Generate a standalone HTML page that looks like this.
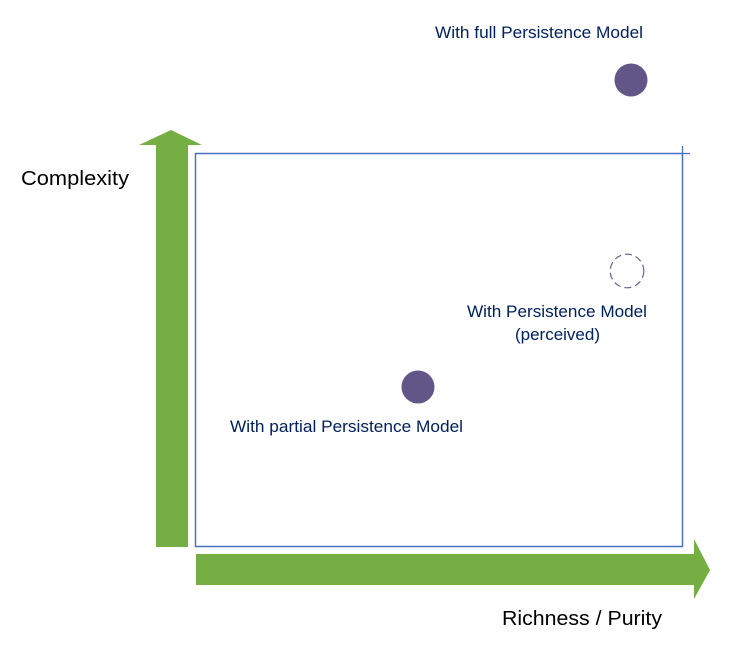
<!DOCTYPE html>
<html>
<head>
<meta charset="utf-8">
<style>
html,body{margin:0;padding:0;background:#fff}
svg{display:block}
text{font-family:"Liberation Sans",sans-serif}
.b{fill:#002060;font-size:17px}
.k{fill:#000;font-size:20px}
</style>
</head>
<body>
<svg width="729" height="651" viewBox="0 0 729 651" xmlns="http://www.w3.org/2000/svg">
<rect width="729" height="651" fill="#fff"/>
<polygon points="156,547 188,547 188,145 202,145 171,130 139,145 156,145" fill="#75ae42"/>
<polygon points="196,554 694,554 694,539 710,570 694,599 694,585 196,585" fill="#75ae42"/>
<rect x="195.5" y="153.5" width="487" height="393" fill="none" stroke="#4a72c4" stroke-width="1.5"/>
<line x1="682.5" y1="146" x2="682.5" y2="154" stroke="#4a72c4" stroke-width="1.3"/>
<line x1="682" y1="153.5" x2="690" y2="153.5" stroke="#4a72c4" stroke-width="1.3"/>
<circle cx="631" cy="80" r="16.5" fill="#625689"/>
<circle cx="418" cy="387" r="16.5" fill="#625689"/>
<circle cx="627" cy="271" r="16.8" fill="none" stroke="#6a5f92" stroke-width="1.2" stroke-dasharray="7 4"/>
<text class="b" x="435" y="38" textLength="208" lengthAdjust="spacingAndGlyphs">With full Persistence Model</text>
<text class="b" x="467" y="317" textLength="180" lengthAdjust="spacingAndGlyphs">With Persistence Model</text>
<text class="b" x="515" y="340" textLength="85" lengthAdjust="spacingAndGlyphs">(perceived)</text>
<text class="b" x="230" y="432" textLength="233" lengthAdjust="spacingAndGlyphs">With partial Persistence Model</text>
<text class="k" x="21" y="185" textLength="108" lengthAdjust="spacingAndGlyphs">Complexity</text>
<text class="k" x="502" y="625" textLength="160" lengthAdjust="spacingAndGlyphs">Richness / Purity</text>
</svg>
</body>
</html>
